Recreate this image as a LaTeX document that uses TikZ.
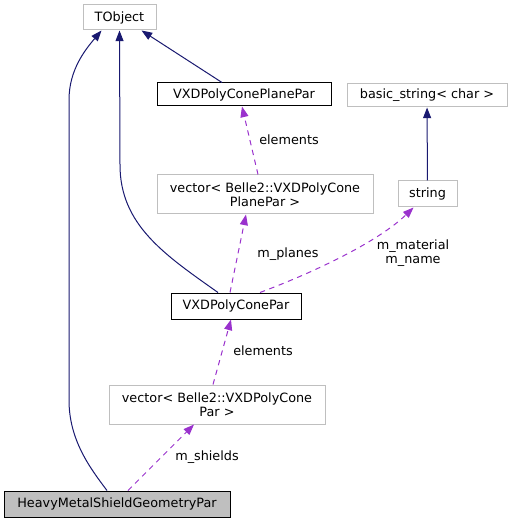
\documentclass[tikz,border=0pt]{standalone}
\usepackage{fontspec}
\setmainfont{DejaVu Sans}
\definecolor{dxnavy}{RGB}{25,25,112}
\definecolor{dxorchid}{RGB}{154,50,205}
\definecolor{dxgray}{RGB}{191,191,191}
\usetikzlibrary{arrows.meta,calc}

\begin{document}
\begin{tikzpicture}[x=0.75pt,y=-0.75pt,
  cls/.style={draw=dxgray,line width=0.75pt,inner sep=0pt,align=center,
    font=\fontsize{9.6}{10.5}\selectfont},
  sz/.style 2 args={minimum width=#1*0.75pt,minimum height=#2*0.75pt},
  lbl/.style={inner sep=0pt,align=center,font=\fontsize{9.6}{10.5}\selectfont},
  inherit/.style={dxnavy,line width=0.75pt,-{Triangle[length=8pt,width=6pt]}},
  usage/.style={dxorchid,line width=0.75pt,dash pattern=on 4pt off 3.5pt,
    -{Triangle[length=8pt,width=6pt]}}]
  \useasboundingbox (0,0) rectangle (512,523);
  \node[cls,sz={73}{25}] (tobj) at (119.5,17.5) {TObject};
  \node[cls,sz={174}{23},draw=black] (plane) at (244,94.5) {VXDPolyConePlanePar};
  \node[cls,sz={160}{23}] (bstr) at (427,95.5) {basic\_string\textless{} char \textgreater};
  \node[cls,sz={216}{39}] (vplane) at (265,194.5) {vector\textless{} Belle2::VXDPolyCone\\PlanePar \textgreater};
  \node[cls,sz={59}{26}] (str) at (427.5,194) {string};
  \node[cls,sz={130}{26},draw=black] (cone) at (236,306) {VXDPolyConePar};
  \node[cls,sz={216}{39}] (vcone) at (217,404.5) {vector\textless{} Belle2::VXDPolyCone\\Par \textgreater};
  \node[cls,sz={226}{26},draw=black,fill=dxgray] (shield) at (117,504) {HeavyMetalShieldGeometryPar};
  % inheritance
  \draw[inherit] ($(shield.north)+(-10,0)$) .. controls (90,468) and (69,440) .. (69,400)
    -- (69,100) .. controls (69,70) and (85,50) .. ($(tobj.south)+(-18,0)$);
  \draw[inherit] ($(cone.north)+(-18,0)$) .. controls (165,255) and (120,225) .. (120,165)
    -- (tobj.south);
  \draw[inherit] ($(plane.north)+(-22,0)$) -- ($(tobj.south)+(22,0)$);
  \draw[inherit] (str) -- (bstr);
  % members
  \draw[usage] ($(vplane.north)+(-7,0)$) -- ($(plane.south)+(-2,0)$);
  \node[lbl] (l1) at (289,140) {elements};
  \draw[usage] ($(cone.north)+(-6,0)$) -- ($(vplane.south)+(-19,0)$);
  \node[lbl] (l2) at (288,254) {m\_planes};
  \draw[usage] ($(cone.north)+(24,0)$) .. controls (320,270) and (380,240) .. ($(str.south)+(-14,0)$);
  \node[lbl] (l3) at (413,253) {m\_material\\m\_name};
  \draw[usage] ($(vcone.north)+(-4,0)$) -- ($(cone.south)+(-5,0)$);
  \node[lbl] (l4) at (263,351) {elements};
  \draw[usage] ($(shield.north)+(11,0)$) -- ($(vcone.south)+(-23,0)$);
  \node[lbl] (l5) at (207,457) {m\_shields};
\end{tikzpicture}
\end{document}
